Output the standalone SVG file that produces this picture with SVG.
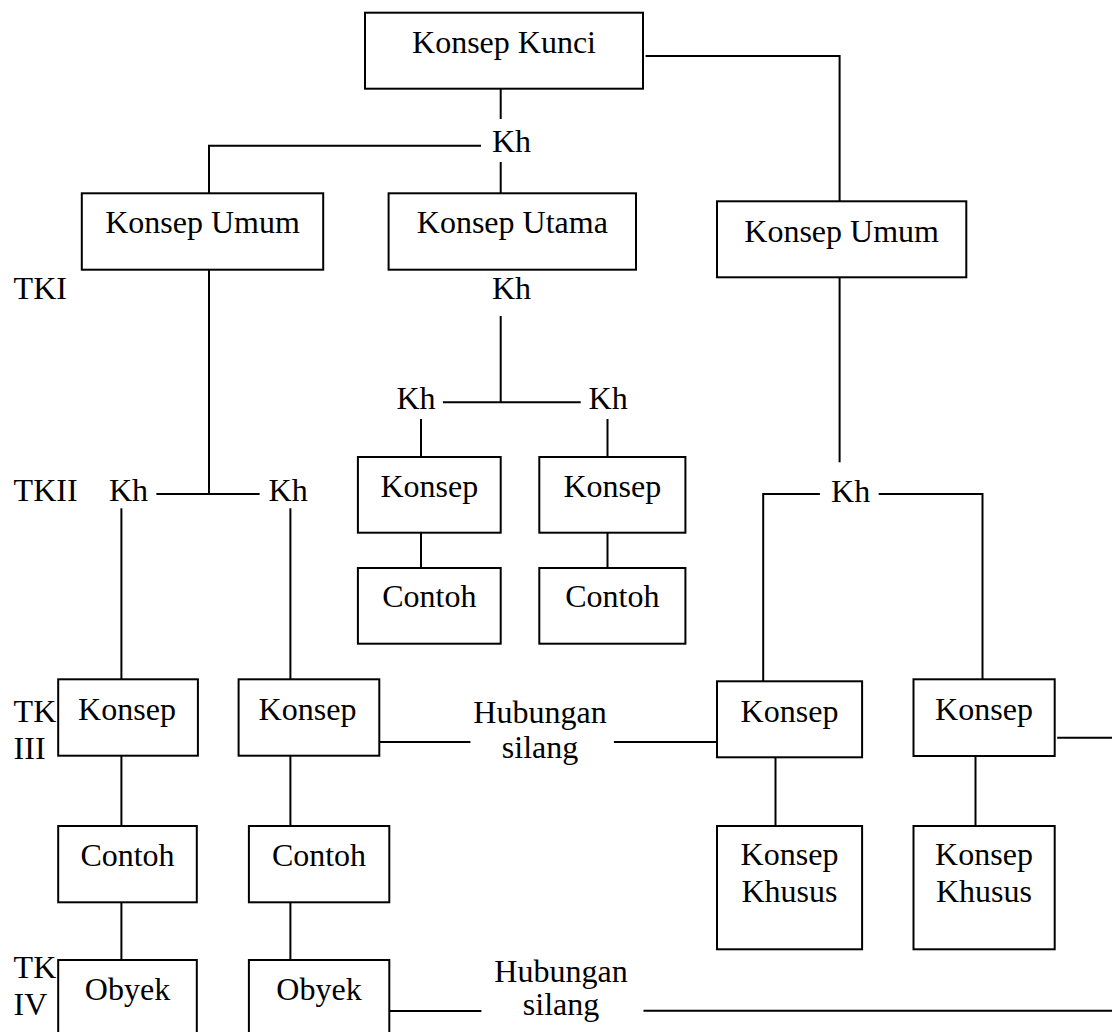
<svg xmlns="http://www.w3.org/2000/svg" width="1112" height="1032" viewBox="0 0 1112 1032">
<style>
rect{fill:#fff;stroke:#000;stroke-width:2}
line,polyline{fill:none;stroke:#000;stroke-width:2}
text{font-family:'Liberation Serif','Times New Roman',Times,'DejaVu Serif',serif;font-size:32px;fill:#000}
</style>
<rect x="0" y="0" width="1112" height="1032" style="stroke:none"/>
<g id="connectors">
<polyline points="645.6,56 839.6,56 839.6,201.3"/>
<line x1="500.7" y1="88.7" x2="500.7" y2="119"/>
<polyline points="481,145.7 209,145.7 209,193.3"/>
<line x1="500.7" y1="162" x2="500.7" y2="193.3"/>
<line x1="209" y1="269.7" x2="209" y2="494"/>
<line x1="500.7" y1="316" x2="500.7" y2="402.3"/>
<line x1="442.9" y1="402.3" x2="580.7" y2="402.3"/>
<line x1="421" y1="419" x2="421" y2="457"/>
<line x1="607.5" y1="419" x2="607.5" y2="457"/>
<line x1="421" y1="532.7" x2="421" y2="568"/>
<line x1="607.5" y1="532.7" x2="607.5" y2="568"/>
<line x1="156.4" y1="494" x2="259.6" y2="494"/>
<line x1="121.4" y1="508.3" x2="121.4" y2="679.3"/>
<line x1="290.4" y1="508.3" x2="290.4" y2="679.3"/>
<line x1="839.6" y1="277.3" x2="839.6" y2="462.3"/>
<polyline points="819.9,494 763.2,494 763.2,681.3"/>
<polyline points="878.7,494 982.5,494 982.5,679.3"/>
<line x1="121.4" y1="755.7" x2="121.4" y2="826"/>
<line x1="290.4" y1="755.7" x2="290.4" y2="826"/>
<line x1="121.4" y1="902.3" x2="121.4" y2="960"/>
<line x1="290.4" y1="902.3" x2="290.4" y2="960"/>
<line x1="379.3" y1="742" x2="470.4" y2="742"/>
<line x1="613.9" y1="742" x2="717" y2="742"/>
<line x1="775.5" y1="757.3" x2="775.5" y2="826"/>
<line x1="975.5" y1="756" x2="975.5" y2="826"/>
<line x1="1057.2" y1="737.7" x2="1112" y2="737.7"/>
<line x1="389.3" y1="1011" x2="481.4" y2="1011"/>
<line x1="643.5" y1="1010.7" x2="1112" y2="1010.7"/>
</g>
<g id="labels">
<text x="492" y="151.7">Kh</text>
<text x="492" y="299">Kh</text>
<text x="396.4" y="409">Kh</text>
<text x="588.6" y="409">Kh</text>
<text x="109" y="501">Kh</text>
<text x="268.6" y="501">Kh</text>
<text x="831.1" y="501.7">Kh</text>
<text x="13.6" y="299">TKI</text>
<text x="13.6" y="501">TKII</text>
<text x="13.6" y="722">TK</text>
<text x="13.6" y="759">III</text>
<text x="13.6" y="978">TK</text>
<text x="13.6" y="1015">IV</text>
<text x="540" y="723" text-anchor="middle">Hubungan</text>
<text x="540" y="758" text-anchor="middle">silang</text>
<text x="561" y="981.7" text-anchor="middle">Hubungan</text>
<text x="561" y="1015" text-anchor="middle">silang</text>
</g>
<g id="n-kunci"><rect x="365" y="12.7" width="278" height="76"/><text x="504" y="53" text-anchor="middle">Konsep Kunci</text></g>
<g id="n-umum1"><rect x="81.8" y="193.3" width="241.4" height="76.4"/><text x="202.5" y="233" text-anchor="middle">Konsep Umum</text></g>
<g id="n-utama"><rect x="388.6" y="193.3" width="247.4" height="76.4"/><text x="512.3" y="233" text-anchor="middle">Konsep Utama</text></g>
<g id="n-umum2"><rect x="717" y="201.3" width="249.3" height="76"/><text x="841.6" y="241.7" text-anchor="middle">Konsep Umum</text></g>
<g id="n-konsep-a"><rect x="357.9" y="457" width="142.8" height="75.7"/><text x="429.3" y="496.7" text-anchor="middle">Konsep</text></g>
<g id="n-contoh-a"><rect x="357.9" y="568" width="142.8" height="75.7"/><text x="429.3" y="606.7" text-anchor="middle">Contoh</text></g>
<g id="n-konsep-b"><rect x="539.3" y="457" width="146.1" height="75.7"/><text x="612.3" y="496.7" text-anchor="middle">Konsep</text></g>
<g id="n-contoh-b"><rect x="539.3" y="568" width="146.1" height="75.7"/><text x="612.3" y="606.7" text-anchor="middle">Contoh</text></g>
<g id="n-konsep-1"><rect x="58.2" y="679.3" width="139.7" height="76.4"/><text x="127" y="720" text-anchor="middle">Konsep</text></g>
<g id="n-konsep-2"><rect x="238.6" y="679.3" width="140.7" height="76.4"/><text x="307.5" y="720" text-anchor="middle">Konsep</text></g>
<g id="n-contoh-1"><rect x="58.2" y="826" width="138.6" height="76.3"/><text x="127.5" y="865.7" text-anchor="middle">Contoh</text></g>
<g id="n-contoh-2"><rect x="248.9" y="826" width="140.4" height="76.3"/><text x="319" y="865.7" text-anchor="middle">Contoh</text></g>
<g id="n-obyek-1"><rect x="58.2" y="960" width="138.6" height="90"/><text x="127.5" y="1000" text-anchor="middle">Obyek</text></g>
<g id="n-obyek-2"><rect x="248.9" y="960" width="140.4" height="90"/><text x="319" y="1000" text-anchor="middle">Obyek</text></g>
<g id="n-konsep-3"><rect x="717" y="681.3" width="145.1" height="76"/><text x="789.5" y="722" text-anchor="middle">Konsep</text></g>
<g id="n-konsep-4"><rect x="913.5" y="679.3" width="141.2" height="76.7"/><text x="984" y="720" text-anchor="middle">Konsep</text></g>
<g id="n-khusus-1"><rect x="717" y="826" width="145.1" height="123.3"/><text x="789.5" y="865" text-anchor="middle">Konsep</text><text x="789.5" y="902.3" text-anchor="middle">Khusus</text></g>
<g id="n-khusus-2"><rect x="913.5" y="826" width="141.2" height="123.3"/><text x="984" y="865" text-anchor="middle">Konsep</text><text x="984" y="902.3" text-anchor="middle">Khusus</text></g>
</svg>
